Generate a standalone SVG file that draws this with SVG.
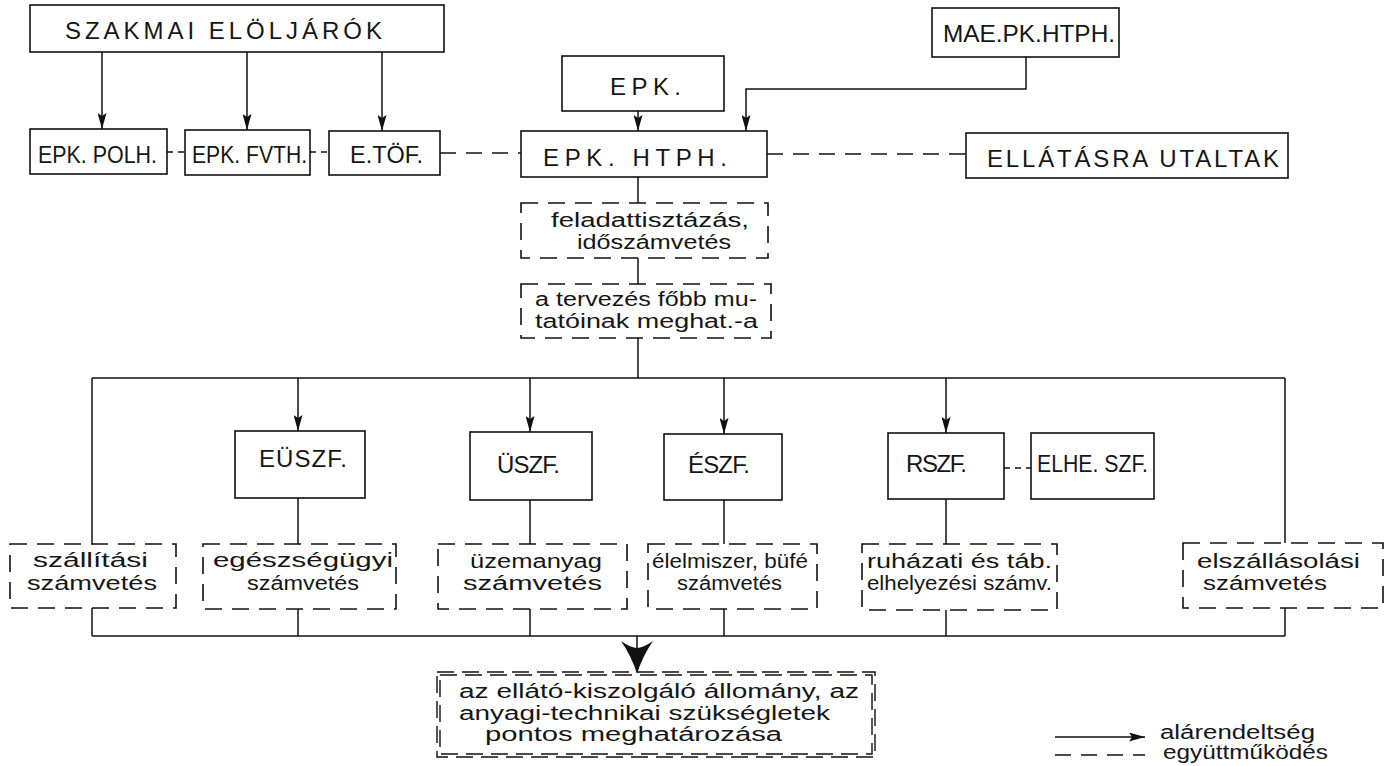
<svg xmlns="http://www.w3.org/2000/svg" width="1387" height="766" viewBox="0 0 1387 766">
<defs>
<style>
.bx{fill:#fff;stroke:#111;stroke-width:1.6}
.db{fill:#fff;stroke:#111;stroke-width:1.6;stroke-dasharray:17 10}
.ln{fill:none;stroke:#111;stroke-width:1.5}
.dl{fill:none;stroke:#111;stroke-width:1.5;stroke-dasharray:16 10}
.ds{fill:none;stroke:#111;stroke-width:1.5;stroke-dasharray:6 5}
.dd{fill:none;stroke:#111;stroke-width:1.4;stroke-dasharray:17 8}
.up{font-family:"Liberation Sans",Arial,sans-serif;font-size:24px;fill:#161616}
.lo{font-family:"Liberation Sans",Arial,sans-serif;font-size:20px;fill:#161616}
</style>
<marker id="ar" markerUnits="userSpaceOnUse" markerWidth="16" markerHeight="9" refX="16" refY="4.5" orient="auto" viewBox="0 0 16 9">
<path d="M0,0 L16,4.5 L0,9 L3,4.5 Z" fill="#111"/>
</marker>
</defs>
<rect width="1387" height="766" fill="#fff"/>

<g id="connectors">
<line class="ln" x1="102" y1="52" x2="102" y2="129" marker-end="url(#ar)"/>
<line class="ln" x1="247" y1="52" x2="247" y2="130" marker-end="url(#ar)"/>
<line class="ln" x1="382" y1="52" x2="382" y2="131" marker-end="url(#ar)"/>
<line class="ds" x1="167" y1="152" x2="185" y2="152"/>
<line class="ds" x1="310" y1="152" x2="329" y2="152"/>
<line class="dl" x1="440" y1="153" x2="521" y2="153"/>
<line class="dl" x1="767" y1="154" x2="966" y2="154"/>
<line class="ln" x1="638" y1="111" x2="638" y2="131" marker-end="url(#ar)"/>
<path class="ln" d="M1026,57 V89 H746 V131" marker-end="url(#ar)"/>
<line class="ln" x1="638" y1="177" x2="638" y2="203"/>
<line class="ln" x1="638" y1="258" x2="638" y2="284"/>
<line class="ln" x1="638" y1="338" x2="638" y2="378"/>
<line class="ln" x1="92" y1="378" x2="1285" y2="378"/>
<line class="ln" x1="92" y1="378" x2="92" y2="544"/>
<line class="ln" x1="1285" y1="378" x2="1285" y2="543"/>
<line class="ln" x1="298" y1="378" x2="298" y2="431" marker-end="url(#ar)"/>
<line class="ln" x1="530" y1="378" x2="530" y2="432" marker-end="url(#ar)"/>
<line class="ln" x1="724" y1="378" x2="724" y2="434" marker-end="url(#ar)"/>
<line class="ln" x1="946" y1="378" x2="946" y2="433" marker-end="url(#ar)"/>
<line class="ln" x1="298" y1="498" x2="298" y2="544"/>
<line class="ln" x1="530" y1="500" x2="530" y2="544"/>
<line class="ln" x1="724" y1="500" x2="724" y2="544"/>
<line class="ln" x1="946" y1="499" x2="946" y2="544"/>
<line class="ds" x1="1004" y1="468" x2="1031" y2="468" stroke-dasharray="9 6"/>
<line class="ln" x1="92" y1="608" x2="92" y2="636"/>
<line class="ln" x1="298" y1="609" x2="298" y2="636"/>
<line class="ln" x1="530" y1="609" x2="530" y2="636"/>
<line class="ln" x1="724" y1="609" x2="724" y2="636"/>
<line class="ln" x1="946" y1="610" x2="946" y2="636"/>
<line class="ln" x1="1285" y1="608" x2="1285" y2="636"/>
<line class="ln" x1="92" y1="636" x2="1285" y2="636"/>
<line class="ln" x1="637" y1="636" x2="637" y2="650"/>
<path d="M637,674 Q632,657 621,641 Q631,648 637,648 Q643,648 653,641 Q642,657 637,674 Z" fill="#111"/>
</g>

<g id="n-szakmai"><rect class="bx" x="30" y="5" width="414" height="47"/><text class="up" x="65" y="39" font-size="22" textLength="317">SZAKMAI ELÖLJÁRÓK</text></g>
<g id="n-polh"><rect class="bx" x="30" y="129" width="137" height="45"/><text class="up" x="38" y="163" textLength="119" lengthAdjust="spacingAndGlyphs">EPK. POLH.</text></g>
<g id="n-fvth"><rect class="bx" x="185" y="130" width="125" height="45"/><text class="up" x="192" y="163" textLength="115" lengthAdjust="spacingAndGlyphs">EPK. FVTH.</text></g>
<g id="n-tof"><rect class="bx" x="329" y="131" width="111" height="44"/><text class="up" x="350" y="163" textLength="73" lengthAdjust="spacingAndGlyphs">E.TÖF.</text></g>
<g id="n-epk"><rect class="bx" x="562" y="56" width="162" height="55"/><text class="up" x="610" y="95" textLength="71">EPK.</text></g>
<g id="n-mae"><rect class="bx" x="932" y="8" width="187" height="49"/><text class="up" x="943" y="42" textLength="172" lengthAdjust="spacingAndGlyphs">MAE.PK.HTPH.</text></g>
<g id="n-htph"><rect class="bx" x="521" y="131" width="246" height="46"/><text class="up" x="543" y="166" font-size="25" textLength="184">EPK. HTPH.</text></g>
<g id="n-ellatasra"><rect class="bx" x="966" y="133" width="322" height="45"/><text class="up" x="987" y="167" textLength="292">ELLÁTÁSRA UTALTAK</text></g>

<g id="n-feladat"><rect class="db" x="521" y="203" width="247" height="55"/><text class="lo" x="551" y="227" textLength="198" lengthAdjust="spacingAndGlyphs">feladattisztázás,</text><text class="lo" x="577" y="249" textLength="154" lengthAdjust="spacingAndGlyphs">időszámvetés</text></g>
<g id="n-tervezes"><rect class="db" x="521" y="284" width="250" height="54"/><text class="lo" x="535" y="306" textLength="222" lengthAdjust="spacingAndGlyphs">a tervezés főbb mu-</text><text class="lo" x="535" y="328" textLength="223" lengthAdjust="spacingAndGlyphs">tatóinak meghat.-a</text></g>

<g id="n-euszf"><rect class="bx" x="235" y="431" width="130" height="67"/><text class="up" x="259" y="467" textLength="88">EÜSZF.</text></g>
<g id="n-uszf"><rect class="bx" x="470" y="432" width="122" height="68"/><text class="up" x="497" y="473" textLength="63">ÜSZF.</text></g>
<g id="n-eszf"><rect class="bx" x="664" y="434" width="118" height="66"/><text class="up" x="688" y="473" textLength="62">ÉSZF.</text></g>
<g id="n-rszf"><rect class="bx" x="888" y="433" width="116" height="66"/><text class="up" x="906" y="472" textLength="61">RSZF.</text></g>
<g id="n-elhe"><rect class="bx" x="1031" y="433" width="123" height="66"/><text class="up" x="1037" y="472" textLength="111" lengthAdjust="spacingAndGlyphs">ELHE. SZF.</text></g>

<g id="n-szallitasi"><rect class="db" x="10" y="544" width="166" height="64"/><text class="lo" x="33" y="567" textLength="115" lengthAdjust="spacingAndGlyphs">szállítási</text><text class="lo" x="27" y="590" textLength="130" lengthAdjust="spacingAndGlyphs">számvetés</text></g>
<g id="n-egeszseg"><rect class="db" x="203" y="544" width="193" height="65"/><text class="lo" x="213" y="567" textLength="180" lengthAdjust="spacingAndGlyphs">egészségügyi</text><text class="lo" x="247" y="590" textLength="112" lengthAdjust="spacingAndGlyphs">számvetés</text></g>
<g id="n-uzemanyag"><rect class="db" x="438" y="544" width="189" height="65"/><text class="lo" x="470" y="568" textLength="132" lengthAdjust="spacingAndGlyphs">üzemanyag</text><text class="lo" x="463" y="590" textLength="139" lengthAdjust="spacingAndGlyphs">számvetés</text></g>
<g id="n-elelmiszer"><rect class="db" x="648" y="544" width="169" height="65"/><text class="lo" x="652" y="568" textLength="156" lengthAdjust="spacingAndGlyphs">élelmiszer, büfé</text><text class="lo" x="677" y="590" textLength="105" lengthAdjust="spacingAndGlyphs">számvetés</text></g>
<g id="n-ruhazati"><rect class="db" x="862" y="544" width="195" height="66"/><text class="lo" x="867" y="568" textLength="185" lengthAdjust="spacingAndGlyphs">ruházati és táb.</text><text class="lo" x="867" y="590" textLength="185" lengthAdjust="spacingAndGlyphs">elhelyezési számv.</text></g>
<g id="n-elszallasolasi"><rect class="db" x="1183" y="543" width="200" height="65"/><text class="lo" x="1197" y="568" textLength="163" lengthAdjust="spacingAndGlyphs">elszállásolási</text><text class="lo" x="1203" y="590" textLength="124" lengthAdjust="spacingAndGlyphs">számvetés</text></g>

<g id="n-eredmeny">
<rect class="dd" x="437" y="672" width="438" height="85"/>
<rect class="dd" x="440" y="675" width="432" height="79"/>
<text class="lo" x="459" y="698" font-size="19" textLength="400" lengthAdjust="spacingAndGlyphs">az ellátó-kiszolgáló állomány, az</text>
<text class="lo" x="459" y="719.5" font-size="19" textLength="371" lengthAdjust="spacingAndGlyphs">anyagi-technikai szükségletek</text>
<text class="lo" x="485" y="741" font-size="19" textLength="297" lengthAdjust="spacingAndGlyphs">pontos meghatározása</text>
</g>

<g id="legend">
<line class="ln" x1="1055" y1="737" x2="1145" y2="737" marker-end="url(#ar)"/>
<line class="dl" x1="1055" y1="755" x2="1145" y2="755" stroke-dasharray="16 8"/>
<text class="lo" x="1160" y="739" font-size="16" textLength="155" lengthAdjust="spacingAndGlyphs">alárendeltség</text>
<text class="lo" x="1163" y="759" font-size="16" textLength="165" lengthAdjust="spacingAndGlyphs">együttműködés</text>
</g>
</svg>
